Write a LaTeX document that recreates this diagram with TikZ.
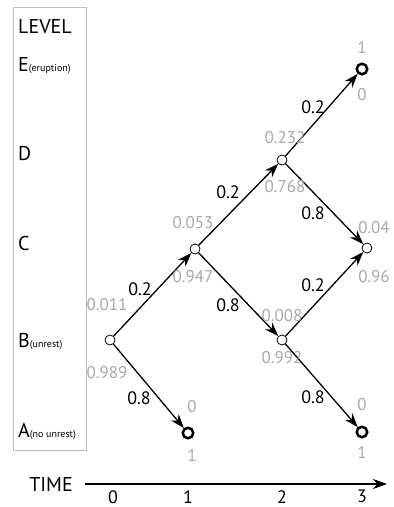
\documentclass[tikz,border=0pt]{standalone}
\usepackage{fontspec}
\setmainfont{PT Sans}
\usetikzlibrary{arrows.meta}
\definecolor{lgray}{gray}{0.66}
\definecolor{boxgray}{gray}{0.74}
\begin{document}
\begin{tikzpicture}[x=1pt,y=-1pt,
  state/.style={circle,draw,fill=white,inner sep=0pt,minimum size=10pt,line width=0.8pt},
  absorb/.style={circle,draw,fill=white,inner sep=0pt,minimum size=10.5pt,line width=2.5pt},
  trans/.style={line width=1.3pt,-{Stealth[length=14pt,width=10pt]}},
  prob/.style={text=lgray,font=\fontsize{17}{17}\selectfont,inner sep=0pt},
  plab/.style={font=\fontsize{18}{18}\selectfont,inner sep=0pt},
  lvl/.style={anchor=base west,font=\fontsize{20}{20}\selectfont,inner sep=0pt},
  tick/.style={font=\fontsize{18}{18}\selectfont,inner sep=0pt,anchor=north}
]
\useasboundingbox (0,0) rectangle (394,507);

% level box
\draw[boxgray,line width=0.9pt] (13,7) rectangle (86,450);
\node[lvl] (lvlT) at (18,33) {LEVEL};
\node[lvl] (lvlE) at (18,71) {E{\fontsize{10}{10}\selectfont(eruption)}};
\node[lvl] (lvlD) at (18,160) {D};
\node[lvl] (lvlC) at (18,250) {C};
\node[lvl] (lvlB) at (18,347) {B{\fontsize{10}{10}\selectfont(unrest)}};
\node[lvl] (lvlA) at (18,437) {A{\fontsize{10}{10}\selectfont(no unrest)}};

% states
\node[state] (B0) at (110,340) {};
\node[state] (C1) at (195,249) {};
\node[absorb] (A1) at (188,433) {};
\node[state] (D2) at (282,160) {};
\node[state] (B2) at (282,340) {};
\node[absorb] (E3) at (362,69) {};
\node[state] (C3) at (367,248) {};
\node[absorb] (A3) at (362,432) {};

% transitions
\draw[trans] (B0) -- (C1);
\draw[trans] (B0) -- (A1);
\draw[trans] (C1) -- (D2);
\draw[trans] (C1) -- (B2);
\draw[trans] (D2) -- (E3);
\draw[trans] (D2) -- (C3);
\draw[trans] (B2) -- (C3);
\draw[trans] (B2) -- (A3);

% transition probabilities
\node[plab] (p1) at (140,289) {0.2};
\node[plab] (p2) at (139,398) {0.8};
\node[plab] (p3) at (228,192) {0.2};
\node[plab] (p4) at (228,305) {0.8};
\node[plab] (p5) at (313,107) {0.2};
\node[plab] (p6) at (313,213) {0.8};
\node[plab] (p7) at (313,285) {0.2};
\node[plab] (p8) at (313,397) {0.8};

% state probabilities
\node[prob] (q1) at (107,305) {0.011};
\node[prob] (q2) at (107,373) {0.989};
\node[prob] (q3) at (193,223) {0.053};
\node[prob] (q4) at (193,277) {0.947};
\node[prob] (q5) at (192,407) {0};
\node[prob] (q6) at (192,455) {1};
\node[prob] (q7) at (285,138) {0.232};
\node[prob] (q8) at (285,187) {0.768};
\node[prob] (q9) at (282,316) {0.008};
\node[prob] (q10) at (282,358) {0.992};
\node[prob] (q11) at (362,47) {1};
\node[prob] (q12) at (362,95) {0};
\node[prob] (q13) at (374,228) {0.04};
\node[prob] (q14) at (374,277) {0.96};
\node[prob] (q15) at (362,405) {0};
\node[prob] (q16) at (362,452) {1};

% time axis
\node[font=\fontsize{20}{20}\selectfont,inner sep=0pt] (time) at (51,484) {TIME};
\coordinate (ts) at (85,484);
\coordinate (te) at (387,484);
\draw[line width=1.4pt,-{Stealth[length=14pt,width=10pt]}] (ts) -- (te);
\node[tick] (t0) at (113,490) {0};
\node[tick] (t1) at (188,490) {1};
\node[tick] (t2) at (282,490) {2};
\node[tick] (t3) at (362,490) {3};
\end{tikzpicture}
\end{document}
